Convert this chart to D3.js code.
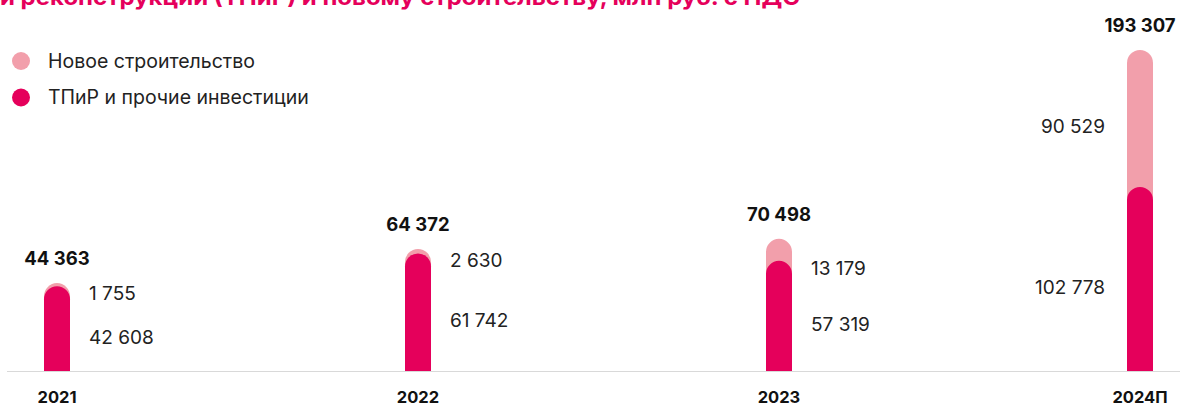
<!DOCTYPE html>
<html>
<head>
<meta charset="utf-8">
<script src="https://cdn.jsdelivr.net/npm/d3@7"></script>
<style>
  body { margin: 0; background: #fff; }
  svg { display: block; font-family: Inter, "Noto Sans", sans-serif; }
</style>
</head>
<body>
<div id="chart"></div>
<script>
// Chart data
const years = ["2021", "2022", "2023", "2024П"];
const tpir = [42608, 61742, 57319, 102778];
const newBuild = [1755, 2630, 13179, 90529];
const totals = [44363, 64372, 70498, 193307];
const legendLabels = ["Новое строительство", "ТПиР и прочие инвестиции"];
const titleText = "и реконструкции (ТПиР) и новому строительству, млн руб. с НДС";

const colorDark = "#E5005B";
const colorLight = "#F29FAB";

const width = 1180, height = 406;
const baseY = 371;
const barW = 26, r = 13;

const fmt = v => d3.format(",")(v).replace(/,/g, " ");

const svg = d3.select("#chart").append("svg")
    .attr("width", width)
    .attr("height", height);

// Title (cut off at the top in the original)
svg.append("text")
    .attr("x", 0)
    .attr("y", 5)
    .attr("fill", colorDark)
    .attr("textLength", 800)
    .attr("lengthAdjust", "spacingAndGlyphs")
    .style("font-size", "22px")
    .style("font-weight", "700")
    .text(titleText);

const x = d3.scalePoint()
    .domain(years)
    .range([57, 1140]);

const y = d3.scalePow()
    .exponent(0.88)
    .domain([0, d3.max(totals)])
    .range([baseY, 50]);

// Baseline
svg.append("line")
    .attr("x1", 7)
    .attr("x2", width)
    .attr("y1", baseY + 0.5)
    .attr("y2", baseY + 0.5)
    .attr("stroke", "#d9d9d9")
    .attr("stroke-width", 1);

function barPath(cx, yTop) {
    const x0 = cx - barW / 2, x1 = cx + barW / 2;
    return `M${x0},${baseY} L${x0},${yTop + r} A${r},${r} 0 0 1 ${x1},${yTop + r} L${x1},${baseY} Z`;
}

const rows = years.map((yr, i) => ({
    year: yr, dark: tpir[i], light: newBuild[i], total: totals[i]
}));

const g = svg.append("g");

// light (total) bars
g.selectAll(".bar-light")
    .data(rows)
    .enter()
    .append("path")
    .attr("class", "bar-light")
    .attr("d", d => barPath(x(d.year), y(d.total)))
    .attr("fill", colorLight);

// dark bars
g.selectAll(".bar-dark")
    .data(rows)
    .enter()
    .append("path")
    .attr("class", "bar-dark")
    .attr("d", d => barPath(x(d.year), y(d.dark)))
    .attr("fill", colorDark);

// total labels
g.selectAll(".total")
    .data(rows)
    .enter()
    .append("text")
    .attr("x", d => x(d.year))
    .attr("y", d => y(d.total) - 18)
    .attr("text-anchor", "middle")
    .style("font-size", "18.5px")
    .style("font-weight", "700")
    .attr("fill", "#111")
    .text(d => fmt(d.total));

// segment labels: last bar has them on the left
const isLast = (d, i) => i === rows.length - 1;
const labelX = (d, i) => isLast(d, i) ? x(d.year) - 35 : x(d.year) + 32;
const anchor = (d, i) => isLast(d, i) ? "end" : "start";

g.selectAll(".lbl-light")
    .data(rows)
    .enter()
    .append("text")
    .attr("x", labelX)
    .attr("text-anchor", anchor)
    .attr("y", d => {
        const top = y(d.total), darkTop = y(d.dark);
        if (darkTop - top < 40) return darkTop + 14;
        return (top + darkTop) / 2 + 15;
    })
    .style("font-size", "19px")
    .attr("fill", "#222")
    .text(d => fmt(d.light));

g.selectAll(".lbl-dark")
    .data(rows)
    .enter()
    .append("text")
    .attr("x", labelX)
    .attr("text-anchor", anchor)
    .attr("y", d => (y(d.dark) + baseY) / 2 + 15)
    .style("font-size", "19px")
    .attr("fill", "#222")
    .text(d => fmt(d.dark));

// year labels
g.selectAll(".year")
    .data(rows)
    .enter()
    .append("text")
    .attr("x", d => x(d.year))
    .attr("y", 403)
    .attr("text-anchor", "middle")
    .style("font-size", "16.5px")
    .style("font-weight", "700")
    .attr("fill", "#111")
    .text(d => d.year);

// Legend
const legend = svg.append("g").attr("transform", "translate(21, 61)");
[colorLight, colorDark].forEach((c, i) => {
    const row = legend.append("g").attr("transform", `translate(0, ${i * 36.5})`);
    row.append("circle").attr("r", 9).attr("fill", c);
    row.append("text")
        .attr("x", 27)
        .attr("y", 6.5)
        .style("font-size", "19.5px")
        .attr("fill", "#222")
        .text(legendLabels[i]);
});
</script>
</body>
</html>
